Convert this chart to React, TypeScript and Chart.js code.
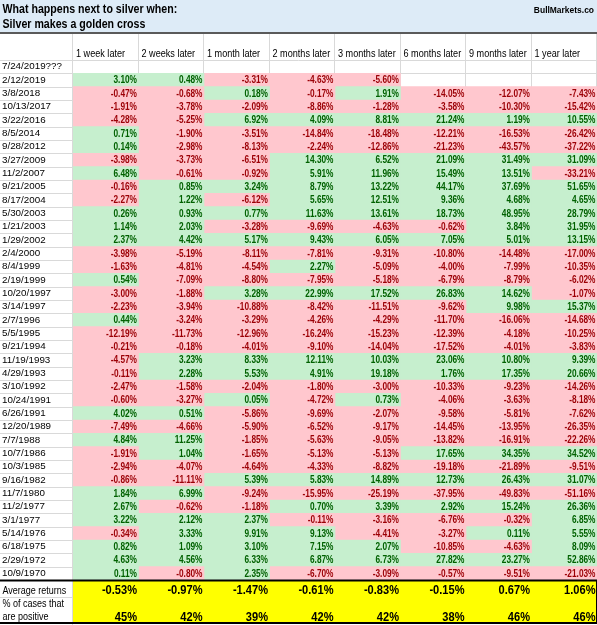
import React, { useEffect, useRef } from 'react';
import { Chart, registerables } from 'chart.js';

Chart.register(...registerables);

const titleLine1 = 'What happens next to silver when:';
const titleLine2 = 'Silver makes a golden cross';
const sourceLabel = 'BullMarkets.co';
const columnLabels = ['1 week later', '2 weeks later', '1 month later', '2 months later', '3 months later', '6 months later', '9 months later', '1 year later'];
const pendingDate = '7/24/2019???';

const dates = ['2/12/2019', '3/8/2018', '10/13/2017', '3/22/2016', '8/5/2014', '9/28/2012', '3/27/2009', '11/2/2007', '9/21/2005', '8/17/2004', '5/30/2003', '1/21/2003', '1/29/2002', '2/4/2000', '8/4/1999', '2/19/1999', '10/20/1997', '3/14/1997', '2/7/1996', '5/5/1995', '9/21/1994', '11/19/1993', '4/29/1993', '3/10/1992', '10/24/1991', '6/26/1991', '12/20/1989', '7/7/1988', '10/7/1986', '10/3/1985', '9/16/1982', '11/7/1980', '11/2/1977', '3/1/1977', '5/14/1976', '6/18/1975', '2/29/1972', '10/9/1970'];

const week1 = [3.10, -0.47, -1.91, -4.28, 0.71, 0.14, -3.98, 6.48, -0.16, -2.27, 0.26, 1.14, 2.37, -3.98, -1.63, 0.54, -3.00, -2.23, 0.44, -12.19, -0.21, -4.57, -0.11, -2.47, -0.60, 4.02, -7.49, 4.84, -1.91, -2.94, -0.86, 1.84, 2.67, 3.22, -0.34, 0.82, 4.63, 0.11];
const week2 = [0.48, -0.68, -3.78, -5.25, -1.90, -2.98, -3.73, -0.61, 0.85, 1.22, 0.93, 2.03, 4.42, -5.19, -4.81, -7.09, -1.88, -3.94, -3.24, -11.73, -0.18, 3.23, 2.28, -1.58, -3.27, 0.51, -4.66, 11.25, 1.04, -4.07, -11.11, 6.99, -0.62, 2.12, 3.33, 1.09, 4.56, -0.80];
const month1 = [-3.31, 0.18, -2.09, 6.92, -3.51, -8.13, -6.51, -0.92, 3.24, -6.12, 0.77, -3.28, 5.17, -8.11, -4.54, -8.80, 3.28, -10.88, -3.29, -12.96, -4.01, 8.33, 5.53, -2.04, 0.05, -5.86, -5.90, -1.85, -1.65, -4.64, 5.39, -9.24, -1.18, 2.37, 9.91, 3.10, 6.33, 2.35];
const month2 = [-4.63, -0.17, -8.86, 4.09, -14.84, -2.24, 14.30, 5.91, 8.79, 5.65, 11.63, -9.69, 9.43, -7.81, 2.27, -7.95, 22.99, -8.42, -4.26, -16.24, -9.10, 12.11, 4.91, -1.80, -4.72, -9.69, -6.52, -5.63, -5.13, -4.33, 5.83, -15.95, 0.70, -0.11, 9.13, 7.15, 6.87, -6.70];
const month3 = [-5.60, 1.91, -1.28, 8.81, -18.48, -12.86, 6.52, 11.96, 13.22, 12.51, 13.61, -4.63, 6.05, -9.31, -5.09, -5.18, 17.52, -11.51, -4.29, -15.23, -14.04, 10.03, 19.18, -3.00, 0.73, -2.07, -9.17, -9.05, -5.13, -8.82, 14.89, -25.19, 3.39, -3.16, -4.41, 2.07, 6.73, -3.09];
const month6 = [null, -14.05, -3.58, 21.24, -12.21, -21.23, 21.09, 15.49, 44.17, 9.36, 18.73, -0.62, 7.05, -10.80, -4.00, -6.79, 26.83, -9.62, -11.70, -12.39, -17.52, 23.06, 1.76, -10.33, -4.06, -9.58, -14.45, -13.82, 17.65, -19.18, 12.73, -37.95, 2.92, -6.76, -3.27, -10.85, 27.82, -0.57];
const month9 = [null, -12.07, -10.30, 1.19, -16.53, -43.57, 31.49, 13.51, 37.69, 4.68, 48.95, 3.84, 5.01, -14.48, -7.99, -8.79, 14.62, 9.98, -16.06, -4.18, -4.01, 10.80, 17.35, -9.23, -3.63, -5.81, -13.95, -16.91, 34.35, -21.89, 26.43, -49.83, 15.24, -0.32, 0.11, -4.63, 23.27, -9.51];
const year1 = [null, -7.43, -15.42, 10.55, -26.42, -37.22, 31.09, -33.21, 51.65, 4.65, 28.79, 31.95, 13.15, -17.00, -10.35, -6.02, -1.07, 15.37, -14.68, -10.25, -3.83, 9.39, 20.66, -14.26, -8.18, -7.62, -26.35, -22.26, 34.52, -9.51, 31.07, -51.16, 26.36, 6.85, 5.55, 8.09, 52.86, -21.03];

const averageReturns = [-0.53, -0.97, -1.47, -0.61, -0.83, -0.15, 0.67, 1.06];
const percentPositive = [45, 42, 39, 42, 42, 38, 46, 46];
const footerLabels = ['Average returns', '% of cases that', 'are positive'];

const columns: (number | null)[][] = [week1, week2, month1, month2, month3, month6, month9, year1];

const FONT = '"Liberation Sans", Arial, sans-serif';
const GREEN = '#C6EFCE';
const GREEN_TEXT = '#006100';
const PINK = '#FFC7CE';
const RED_TEXT = '#9C0006';
const GRID = '#D9D9D9';

const W = 597;
const H = 625;

function drawText(ctx: CanvasRenderingContext2D, text: string, x: number, y: number, align: CanvasTextAlign, font: string, sx: number, color: string) {
  ctx.save();
  ctx.translate(x, y);
  ctx.scale(sx, 1);
  ctx.font = font;
  ctx.textAlign = align;
  ctx.textBaseline = 'middle';
  ctx.fillStyle = color;
  ctx.fillText(text, 0, 0);
  ctx.restore();
}

const tablePlugin = {
  id: 'tablePlugin',
  beforeDraw(chart: any) {
    const { ctx, chartArea } = chart;
    const xs = chart.scales.x;
    const ys = chart.scales.y;
    ctx.save();
    ctx.fillStyle = '#FFFFFF';
    ctx.fillRect(0, 0, W, H);
    ctx.fillStyle = '#DDEBF7';
    ctx.fillRect(0, 0, W, 32);
    ctx.strokeStyle = '#5A5A5A';
    ctx.lineWidth = 2;
    ctx.beginPath();
    ctx.moveTo(0, 33);
    ctx.lineTo(W, 33);
    ctx.stroke();
    ctx.restore();

    drawText(ctx, titleLine1, 2.5, 9.5, 'left', `bold 12.5px ${FONT}`, 0.85, '#000');
    drawText(ctx, titleLine2, 2.5, 25, 'left', `bold 12.5px ${FONT}`, 0.85, '#000');
    drawText(ctx, sourceLabel, 594, 10, 'right', `bold 9.5px ${FONT}`, 0.89, '#000');

    const n = chart.data.labels.length;
    const rowH = ys.getPixelForValue(1) - ys.getPixelForValue(0);
    ctx.save();
    ctx.strokeStyle = GRID;
    ctx.lineWidth = 1;
    ctx.beginPath();
    for (let i = 0; i <= n; i++) {
      const y = Math.round(ys.getPixelForValue(i) - rowH / 2) + 0.5;
      ctx.moveTo(0, y);
      ctx.lineTo(W, y);
    }
    for (let j = 0; j <= columnLabels.length; j++) {
      const x = Math.round(xs.getPixelForValue(j)) - 0.5;
      ctx.moveTo(x, 34);
      ctx.lineTo(x, chartArea.bottom);
    }
    ctx.stroke();
    ctx.restore();

    columnLabels.forEach((lab, j) => {
      drawText(ctx, lab, xs.getPixelForValue(j) + 3, 54, 'left', `10px ${FONT}`, 0.91, '#000');
    });
  },
  afterDatasetsDraw(chart: any) {
    const { ctx } = chart;
    const xs = chart.scales.x;
    const ys = chart.scales.y;
    columns.forEach((col, j) => {
      const right = xs.getPixelForValue(j + 1);
      col.forEach((v, i) => {
        if (v == null) return;
        drawText(ctx, `${v.toFixed(2)}%`, right - 1.5, ys.getPixelForValue(i + 1) + 0.5, 'right', `bold 10px ${FONT}`, 0.83, v >= 0 ? GREEN_TEXT : RED_TEXT);
      });
    });
  },
  afterDraw(chart: any) {
    const { ctx, chartArea } = chart;
    const xs = chart.scales.x;
    const top = chartArea.bottom;
    const left = xs.getPixelForValue(0);
    ctx.save();
    ctx.fillStyle = '#FFFF00';
    ctx.fillRect(left, top + 1, W - left, H - top - 3);
    ctx.strokeStyle = GRID;
    ctx.lineWidth = 1;
    ctx.beginPath();
    ctx.moveTo(0, top + 17.5);
    ctx.lineTo(left, top + 17.5);
    ctx.moveTo(left - 0.5, top);
    ctx.lineTo(left - 0.5, H);
    ctx.stroke();
    ctx.strokeStyle = '#000';
    ctx.lineWidth = 2;
    ctx.beginPath();
    ctx.moveTo(0, top + 0.5);
    ctx.lineTo(W, top + 0.5);
    ctx.moveTo(0, H - 2);
    ctx.lineTo(W, H - 2);
    ctx.stroke();
    ctx.lineWidth = 1;
    ctx.beginPath();
    ctx.moveTo(W - 0.5, top);
    ctx.lineTo(W - 0.5, H - 1);
    ctx.stroke();
    ctx.restore();

    drawText(ctx, footerLabels[0], 2.5, top + 11, 'left', `10px ${FONT}`, 0.9, '#000');
    drawText(ctx, footerLabels[1], 2.5, top + 24, 'left', `10px ${FONT}`, 0.9, '#000');
    drawText(ctx, footerLabels[2], 2.5, top + 37, 'left', `10px ${FONT}`, 0.9, '#000');
    averageReturns.forEach((v, j) => {
      drawText(ctx, `${v.toFixed(2)}%`, xs.getPixelForValue(j + 1) - 1.5, top + 10.5, 'right', `bold 13.5px ${FONT}`, 0.82, '#000');
    });
    percentPositive.forEach((v, j) => {
      drawText(ctx, `${v}%`, xs.getPixelForValue(j + 1) - 1.5, top + 37, 'right', `bold 13.5px ${FONT}`, 0.82, '#000');
    });
  },
};

export default function App() {
  const ref = useRef<HTMLCanvasElement | null>(null);
  useEffect(() => {
    document.body.style.margin = '0';
    const canvas = ref.current;
    if (!canvas) return;
    const datasets = columns.map((col, j) => {
      const vals = [null, ...col];
      return {
        label: columnLabels[j],
        data: vals.map((v) => (v == null ? null : [j, j + 1])),
        backgroundColor: vals.map((v) => (v == null ? 'rgba(0,0,0,0)' : v >= 0 ? GREEN : PINK)),
        borderWidth: 0,
        grouped: false,
        barPercentage: 1,
        categoryPercentage: 1,
      };
    });
    const chart = new Chart(canvas, {
      type: 'bar',
      data: { labels: [pendingDate, ...dates], datasets: datasets as any },
      options: {
        indexAxis: 'y',
        responsive: false,
        animation: false,
        layout: { padding: { top: 60, bottom: 45, left: 2, right: 0 } },
        plugins: { legend: { display: false }, tooltip: { enabled: false } },
        scales: {
          x: { type: 'linear', min: 0, max: 8, display: false },
          y: {
            type: 'category',
            offset: true,
            grid: { display: false },
            border: { display: false },
            ticks: { crossAlign: 'far', autoSkip: false, padding: 0, color: '#000', font: { family: FONT, size: 9.8 } },
            afterFit: (s: any) => {
              s.width = 71;
            },
          },
        },
      } as any,
      plugins: [tablePlugin],
    });
    return () => chart.destroy();
  }, []);
  return <canvas ref={ref} width={W} height={H} style={{ display: 'block' }} />;
}
